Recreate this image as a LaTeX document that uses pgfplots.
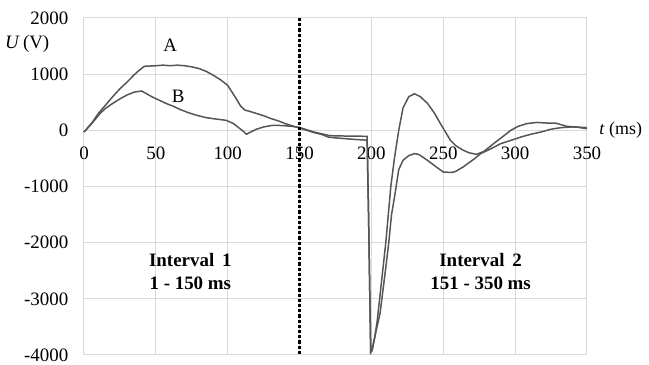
\documentclass[border=0pt]{standalone}
\usepackage{pgfplots}
\pgfplotsset{compat=1.18}
\usepackage{fontspec}
\setmainfont{Liberation Serif}
\definecolor{curve}{HTML}{555555}
\definecolor{gridc}{HTML}{D9D9D9}
\begin{document}
\fontsize{9.5}{11}\selectfont
\begin{tikzpicture}
\begin{axis}[
  scale only axis,
  width=251.5bp, height=168.5bp,
  xmin=0, xmax=350, ymin=-4000, ymax=2000,
  xtick={0,50,...,350},
  ytick={-4000,-3000,...,2000},
  yticklabels={-4000,-3000,-2000,-1000,0,1000,2000},
  xticklabels={},
  grid=major,
  grid style={gridc, line width=0.5pt},
  axis line style={gridc, line width=0.5pt},
  major tick length=0pt,
  tick style={draw=none},
  every tick label/.append style={font=\fontsize{9.5}{11}\selectfont},
  y tick label style={xshift=-4.5bp},
  clip=false,
]
\coordinate (ll) at (rel axis cs:0,0);
\coordinate (ur) at (rel axis cs:1,1);
% x tick labels along the zero line
\foreach \v in {0,50,...,350} {
  \edef\tmp{\noexpand\node[anchor=north, inner sep=0bp, yshift=-8bp] at (axis cs:\v,0) {\v};}
  \tmp
}
% Curve A
\addplot[curve, line width=0.75pt] coordinates {
(0,-30) (3,60) (6,150) (10,300) (15,450) (20,600) (25,740) (30,860) (35,990) (38,1060) (42,1140)
(50,1150) (55,1160) (60,1150) (65,1160) (70,1150) (75,1130) (80,1100) (85,1050) (90,980)
(95,900) (100,800) (103,680) (106,560) (109,430) (112,360) (115,340) (120,300) (125,260)
(130,210) (135,170) (140,120) (145,80) (150,40) (155,0) (160,-40) (165,-70) (170,-120)
(175,-135) (180,-145) (185,-155) (190,-165) (197,-175) (198,-1500) (199.5,-3950)
(200.5,-3900) (202.5,-3650) (204,-3400) (207,-2700) (210,-2000) (213.5,-1000) (216,-500)
(219,0) (222,400) (226,600) (230,650) (234,600) (239,480) (244,300) (248,120) (252,-50)
(255,-180) (259,-280) (264,-356) (268,-400) (273,-427) (278,-380) (282,-300) (285,-237)
(291,-120) (297,0) (302,70) (308,119) (315,140) (322,130) (328,130) (336,71) (342,60) (350,30)
};
% Curve B
\addplot[curve, line width=0.75pt] coordinates {
(0,-30) (4,80) (8,200) (11,297) (15,390) (20,480) (25,560) (30,630) (35,680) (40,700)
(43,660) (47,600) (52,540) (57,480) (62,430) (67,370) (72,320) (78,270) (85,226) (92,200)
(99,178) (104,120) (108,40) (111,-20) (113,-70) (116,-30) (120,20) (125,60) (131,89)
(138,85) (145,70) (150,50) (155,10) (160,-30) (165,-60) (171,-95) (178,-100) (185,-103)
(192,-105) (197,-107) (198,-1500) (199.5,-3950) (200.5,-3920) (203,-3600) (206,-3260)
(209,-2650) (212,-2020) (214,-1500) (216,-1200) (219,-700) (222,-534) (226,-450) (230,-415)
(233,-430) (239,-534) (245,-650) (250,-742) (255,-750) (258,-740) (264,-650) (267,-593)
(272,-500) (276,-415) (283,-330) (290,-237) (297,-180) (304,-119) (311,-70) (318,-30)
(325,20) (332,48) (340,60) (345,55) (350,48)
};
\draw[black, line width=1.1pt, dash pattern=on 1.6bp off 1bp] (axis cs:150,2000) -- (axis cs:150,-4000);
\node at (axis cs:60,1510) {A};
\node at (axis cs:65.5,610) {B};
\node[align=center, font=\bfseries\fontsize{9.5}{11.5}\selectfont] at (axis cs:74,-2520) {Interval\, 1\\1 - 150 ms};
\node[align=center, font=\bfseries\fontsize{9.5}{11.5}\selectfont] at (axis cs:276,-2520) {Interval\, 2\\151 - 350 ms};
\node[anchor=east] at ([xshift=-14bp]axis cs:0,1530) {\textit{U}\,(V)};
\node[anchor=west, inner sep=0pt, font=\fontsize{9}{11}\selectfont] at ([xshift=6bp]axis cs:350,0) {\textit{t} (ms)};
\end{axis}
\pgfresetboundingbox
\path[use as bounding box] ([shift={(-42bp,-5bp)}]ll) rectangle ([shift={(31bp,9bp)}]ur);
\end{tikzpicture}
\end{document}
